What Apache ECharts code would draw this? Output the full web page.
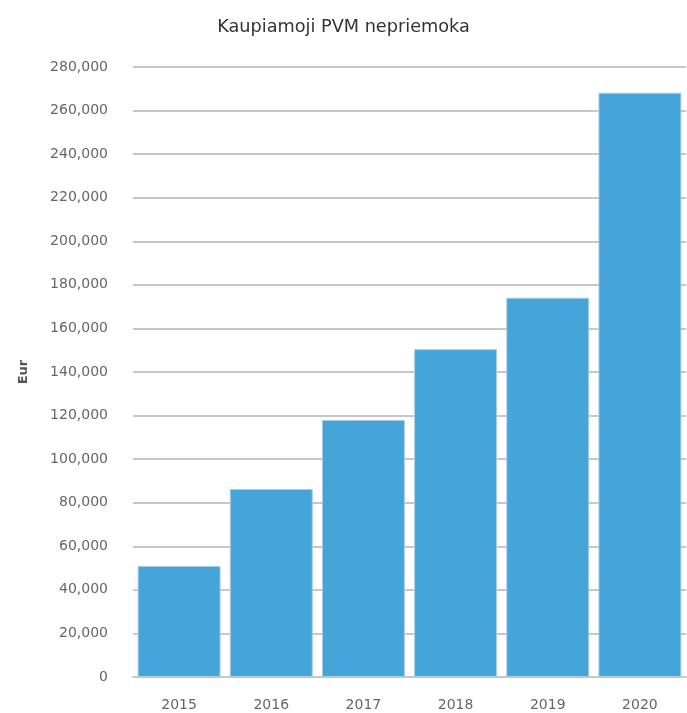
<!DOCTYPE html>
<html>
<head>
<meta charset="utf-8">
<script src="https://cdn.jsdelivr.net/npm/echarts@6/dist/echarts.min.js"></script>
<style>
  html, body { margin: 0; padding: 0; background: #fff; }
  #chart { width: 687px; height: 713px; }
</style>
</head>
<body>
<div id="chart"></div>
<script>
// duomenys
const years = ['2015', '2016', '2017', '2018', '2019', '2020']
const vatGap = [51000, 86300, 118000, 150500, 174100, 268200]

const font = 'DejaVu Sans, Liberation Sans, sans-serif'
const chart = echarts.init(document.getElementById('chart'))

chart.setOption({
  animation: false,
  title: {
    text: 'Kaupiamoji PVM nepriemoka',
    left: 'center',
    top: 13,
    textStyle: {
      fontFamily: font,
      fontSize: 17.7,
      fontWeight: 'normal',
      color: '#333',
    },
  },
  grid: {
    left: 133,
    right: 1,
    top: 67,
    bottom: 36,
  },
  xAxis: {
    type: 'category',
    data: years,
    axisTick: { show: false },
    axisLine: { lineStyle: { color: '#c4c8ca', width: 2 } },
    axisLabel: {
      margin: 21,
      color: '#666',
      fontFamily: font,
      fontSize: 14,
    },
  },
  yAxis: {
    type: 'value',
    min: 0,
    max: 280000,
    interval: 20000,
    name: 'Eur',
    nameLocation: 'middle',
    nameGap: 103,
    nameRotate: 90,
    nameTextStyle: {
      color: '#555',
      fontWeight: 'bold',
      fontSize: 13,
      fontFamily: font,
    },
    axisLine: { show: false },
    axisTick: { show: false },
    axisLabel: {
      margin: 25,
      color: '#666',
      fontFamily: font,
      fontSize: 14,
      formatter: v => v.toLocaleString('en-US'),
    },
    splitLine: { lineStyle: { color: '#c4c8ca', width: 2 } },
  },
  series: [
    {
      type: 'bar',
      data: vatGap,
      barCategoryGap: '10%',
      itemStyle: {
        color: '#45a5d8',
        borderColor: '#a9cde0',
        borderWidth: 1,
      },
    },
  ],
})
</script>
</body>
</html>
